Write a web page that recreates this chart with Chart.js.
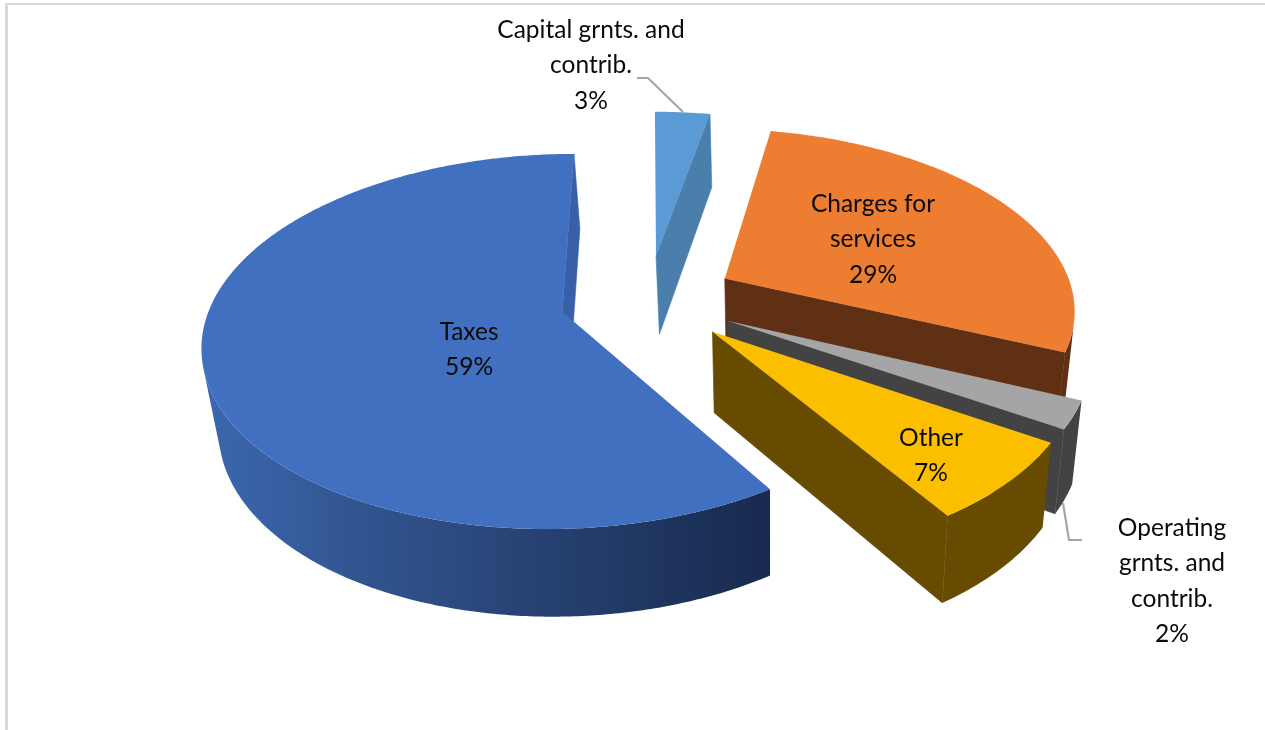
<!DOCTYPE html>
<html>
<head>
<meta charset="utf-8">
<title>Revenue by source</title>
<script src="https://cdn.jsdelivr.net/npm/chart.js@4"></script>
<style>
  html, body { margin: 0; padding: 0; background: #fff; overflow: hidden; }
  #frame { position: absolute; left: 5px; top: 3px; right: 0; bottom: 0; border-left: 3px solid #d9d9d9; border-top: 2px solid #d9d9d9; }
  #chart { position: absolute; left: 0; top: 0; }
</style>
</head>
<body>
<div id="frame"></div>
<canvas id="chart" width="1265" height="730"></canvas>
<script>
const categories = ['Capital grnts. and contrib.', 'Charges for services', 'Operating grnts. and contrib.', 'Other', 'Taxes'];
const shares = [3.0, 28.6, 2.4, 6.9, 59.1];
const labelLines = [['Capital grnts. and', 'contrib.'], ['Charges for', 'services'], ['Operating', 'grnts. and', 'contrib.'], ['Other'], ['Taxes']];
const topColors = ['#5b9bd5', '#ed7d31', '#a5a5a5', '#fcbf00', '#4170c0'];
const cutColors = ['#4a7eab', '#5f3014', '#434343', '#664b00', '#3860a8'];
const wallColors = ['#4a7eab', '#5f3014', '#434343', '#664b00', null];

// label anchors: centre x and middle y of the first line
const labelPos = [[591, 30], [873, 204], [1172, 528], [931, 438], [469, 332]];
const LINE_H = 35.5;

// fake 3d view of the flat pie: a perspective on the plane, then a drop for the thickness
const view = { r: 350, squash: 0.511, k: 0.156, depth: 80, shrink: 0.97, vanishX: 770 };
const drawOrder = [0, 1, 4, 2, 3];

function project(cx, cy, x, y, lower) {
  const w = 1 + view.k * y;
  let sx = cx + view.r * x / w;
  let sy = cy - view.r * view.squash * y / w;
  if (lower) {
    sx = view.vanishX + (sx - view.vanishX) * view.shrink;
    sy += view.depth / Math.sqrt(w);
  }
  return [sx, sy];
}

function tracePath(ctx, pts) {
  ctx.beginPath();
  pts.forEach((q, n) => n ? ctx.lineTo(q[0], q[1]) : ctx.moveTo(q[0], q[1]));
  ctx.closePath();
}

// shoelace sum, y down: positive means clockwise on screen
function shoelace(pts) {
  let sum = 0;
  pts.forEach((a, n) => {
    const b = pts[(n + 1) % pts.length];
    sum += a[0] * b[1] - b[0] * a[1];
  });
  return sum;
}

function fillCut(ctx, pts, color) {
  ctx.fillStyle = color;
  ctx.strokeStyle = color;
  ctx.lineWidth = 0.6;
  tracePath(ctx, pts);
  ctx.fill();
  ctx.stroke();
}

function drawSlice(ctx, arc, i, taxesWall) {
  const p = arc.getProps(['x', 'y', 'startAngle', 'endAngle', 'outerRadius']);
  const off = arc.options.offset / p.outerRadius;
  const mid = (p.startAngle + p.endAngle) / 2;
  const ax = off * Math.cos(mid);
  const ay = -off * Math.sin(mid);

  const rim = [];
  const steps = Math.max(4, Math.ceil((p.endAngle - p.startAngle) / 0.01));
  for (let s = 0; s <= steps; s++) {
    const t = p.startAngle + (p.endAngle - p.startAngle) * s / steps;
    rim.push([ax + Math.cos(t), ay - Math.sin(t)]);
  }
  const top = pt => project(p.x, p.y, pt[0], pt[1], false);
  const low = pt => project(p.x, p.y, pt[0], pt[1], true);
  const apex = [ax, ay];

  // rim wall: only the part facing the viewer
  const run = [];
  for (let s = 0; s < steps; s++) {
    if (shoelace([top(rim[s]), top(rim[s + 1]), low(rim[s + 1]), low(rim[s])]) < 0) run.push(s);
  }
  if (run.length) {
    const upper = [], lower = [];
    for (let s = run[0]; s <= run[run.length - 1] + 1; s++) {
      upper.push(top(rim[s]));
      lower.unshift(low(rim[s]));
    }
    ctx.fillStyle = wallColors[i] || taxesWall;
    tracePath(ctx, upper.concat(lower));
    ctx.fill();
  }

  // the two straight cuts, when they face the viewer
  const startCut = [top(apex), top(rim[0]), low(rim[0]), low(apex)];
  const endCut = [top(apex), top(rim[steps]), low(rim[steps]), low(apex)];
  if (shoelace(startCut) < 0) fillCut(ctx, startCut, cutColors[i]);
  if (shoelace(endCut) > 0) fillCut(ctx, endCut, cutColors[i]);

  ctx.fillStyle = topColors[i];
  tracePath(ctx, [top(apex)].concat(rim.map(top)));
  ctx.fill();
}

function drawLeader(ctx, pts) {
  ctx.strokeStyle = '#a6a6a6';
  ctx.lineWidth = 2.2;
  ctx.beginPath();
  pts.forEach((q, n) => n ? ctx.lineTo(q[0], q[1]) : ctx.moveTo(q[0], q[1]));
  ctx.stroke();
}

const pie3d = {
  id: 'pie3d',
  beforeDatasetsDraw(chart) {
    const ctx = chart.ctx;
    const arcs = chart.getDatasetMeta(0).data;
    const grad = ctx.createLinearGradient(205, 0, 768, 0);
    grad.addColorStop(0, '#3c67ae');
    grad.addColorStop(0.35, '#2f5088');
    grad.addColorStop(1, '#182a4e');
    ctx.save();
    drawOrder.forEach(i => drawSlice(ctx, arcs[i], i, grad));
    ctx.restore();
    return false;
  },
  afterDraw(chart) {
    const ctx = chart.ctx;
    ctx.save();
    drawLeader(ctx, [[637, 78], [648, 78], [683, 112]]);
    drawLeader(ctx, [[1063, 503], [1069, 540], [1082, 540]]);
    ctx.fillStyle = '#0a0a0a';
    ctx.font = '24.5px Lato';
    ctx.textAlign = 'center';
    ctx.textBaseline = 'middle';
    labelLines.forEach((lines, i) => {
      const all = lines.concat(Math.round(shares[i]) + '%');
      all.forEach((t, n) => ctx.fillText(t, labelPos[i][0], labelPos[i][1] + n * LINE_H));
    });
    ctx.restore();
  }
};

new Chart(document.getElementById('chart'), {
  type: 'pie',
  data: {
    labels: categories,
    datasets: [{ data: shares, backgroundColor: topColors, borderWidth: 0, offset: 67 }]
  },
  options: {
    responsive: false,
    animation: false,
    rotation: 0,
    events: [],
    layout: { padding: { left: 34, right: 3, top: 0, bottom: 132 } },
    plugins: { legend: { display: false }, tooltip: { enabled: false } }
  },
  plugins: [pie3d]
});
</script>
</body>
</html>
